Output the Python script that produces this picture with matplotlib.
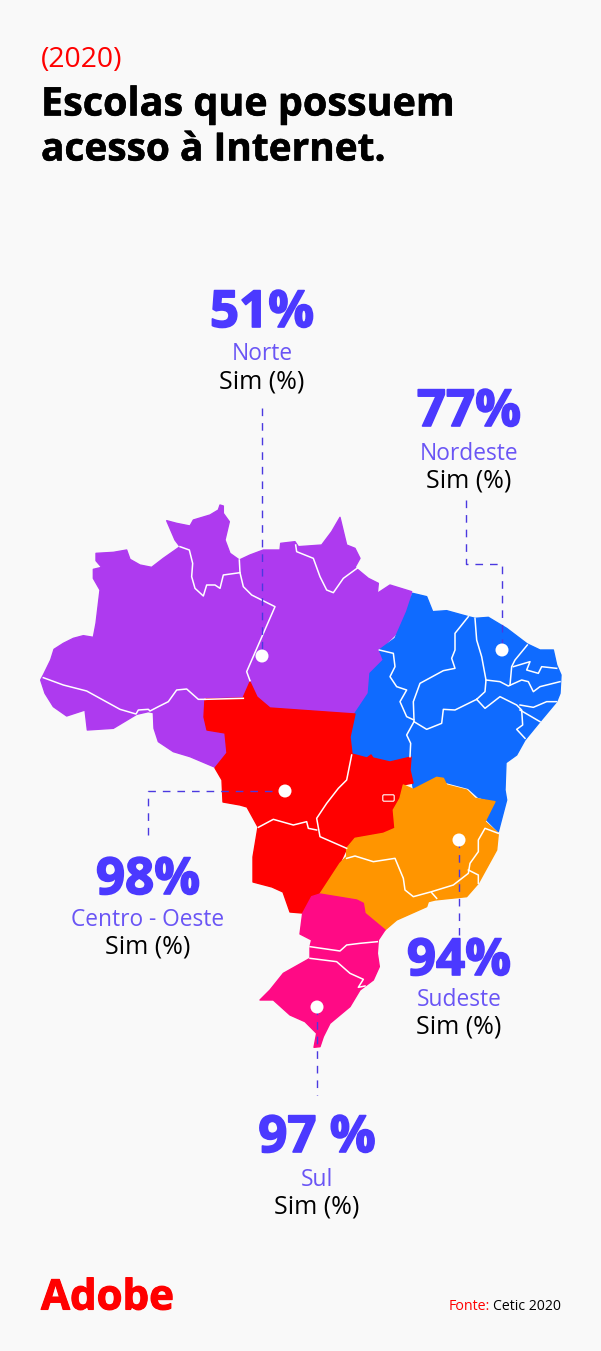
import matplotlib
matplotlib.use("Agg")
import matplotlib.pyplot as plt
import matplotlib.patheffects as pe
from matplotlib.patches import Polygon, Circle, FancyBboxPatch

# ---- data -------------------------------------------------------------
regions = ["Norte", "Nordeste", "Centro - Oeste", "Sudeste", "Sul"]
labels = ["51%", "77%", "98%", "94%", "97 %"]
answer = "Sim (%)"
title_year = "(2020)"
title_lines = ["Escolas que possuem", "acesso à Internet."]

def crop(points, x0, y0):
    return [(x0 + x / 3, y0 + y / 3) for x, y in points]

Z1 = (30, 490)
Z2 = (340, 570)
Z3 = (240, 750)

norte = crop([(40,555),(62,510),(72,478),(100,460),(130,445),(160,437),(190,442),(198,400),(210,300),(190,265),(190,238),(215,232),(198,212),(198,190),(250,187),(290,180),(300,208),(330,225),(365,232),(400,205),(450,170),(435,150),(410,92),(440,100),(480,108),(490,90),(540,75),(565,60),(570,45),(580,48),(580,70),(598,95),(585,150),(600,190),(628,210),(660,195),(700,180),(750,180),(752,160),(795,155),(805,170),(875,165),(905,125),(930,82),(950,165),(975,175),(990,205),(975,232),(1015,265),(1045,280),(1042,310),(1080,285),(1145,305),(1130,375),(1100,430),(1055,475),(1060,510),(1020,555),(1015,610),(975,672),(720,655),(680,620),(660,575),(640,625),(525,628),(522,680),(530,720),(585,730),(590,790),(558,833),(480,800),(430,785),(385,755),(372,715),(370,668),(355,665),(320,673),(250,715),(172,720),(165,660),(110,678),(70,650),(45,610),(32,570)], *Z1)

nordeste = crop([(218,70),(260,80),(278,125),(320,122),(385,140),(405,145),(445,142),(500,175),(562,222),(600,240),(640,240),(650,285),(663,315),(660,370),(650,395),(600,455),(555,510),(530,555),(498,578),(495,660),(500,690),(475,785),(435,745),(462,695),(415,682),(385,655),(310,635),(290,622),(220,655),(210,600),(212,562),(150,575),(100,565),(92,555),(80,565),(35,552),(30,500),(45,430),(85,370),(90,310),(130,270),(118,240),(165,205),(200,125)], *Z2)

centro = [(250,682),(243,698),(205,699),(204,717),(207,730),(225,733),(227,753),(215,768),(222,780),(223,802),(240,805),(247,807),(258,827),(253,857),(253,882),(272,887),(283,892),(290,912),(302,913),(312,897),(320,894),(340,863),(347,848),(355,838),(383,833),(395,828),(393,810),(400,798),(403,785),(413,783),(410,770),(411,757),(390,762),(373,758),(371,755),(367,758),(352,754),(350,737),(355,714),(270,708),(257,697)]

sudeste = crop([(775,250),(770,300),(715,400),(680,440),(585,450),(565,455),(560,470),(470,510),(435,540),(375,490),(370,460),(350,450),(240,432),(300,340),(320,320),(320,295),(345,265),(430,250),(465,235),(460,180),(480,145),(490,105),(520,118),(590,82),(610,85),(620,105),(680,120),(705,145),(765,155),(735,215)], *Z3)

sul = crop([(240,432),(350,450),(370,460),(375,490),(435,540),(415,570),(412,610),(418,650),(400,690),(360,720),(330,770),(270,820),(250,860),(240,890),(222,892),(230,850),(195,815),(150,795),(100,750),(60,750),(90,720),(130,670),(210,625),(210,590),(215,570),(180,552),(188,490),(215,440)], *Z3)

borders = [
    crop(b, *Z1) for b in [
        [(40,563),(100,585),(170,603),(270,658),(318,672),(325,660),(355,658),(360,663),(385,650),(415,635),(440,600),(470,597),(505,628),(525,628)],
        [(450,170),(478,180),(488,220),(485,260),(495,295),(520,318),(530,285),(555,285),(570,295),(580,255),(630,248),(628,210)],
        [(630,248),(640,290),(665,315),(735,350),(650,545),(660,572)],
        [(797,165),(800,185),(850,205),(870,260),(890,300),(910,308),(940,265),(985,232)],
        [(525,628),(640,625)],
    ]
] + [
    crop(b, *Z2) for b in [
        [(385,140),(345,190),(345,240),(335,265),(345,295),(310,302),(240,340),(220,395),(222,450)],
        [(222,455),(260,478),(305,460),(310,418),(345,420),(410,388)],
        [(118,240),(160,250),(165,290),(150,320),(170,350),(200,360),(180,395),(200,440),(222,450)],
        [(222,455),(200,495),(212,520),(210,560)],
        [(405,145),(410,210),(425,260),(438,330),(435,365),(410,388)],
        [(562,225),(525,270),(515,290),(510,345)],
        [(438,330),(480,335),(505,348),(545,330),(565,335),(580,365),(600,350),(660,335)],
        [(520,290),(570,275),(560,300),(595,310),(605,290),(650,295)],
        [(410,388),(435,415),(480,380),(530,405),(545,420),(548,465),(530,478),(555,505)],
        [(540,405),(580,412),(620,395),(650,395)],
        [(540,420),(600,455)],
    ]
] + [
    crop(b, *Z3) for b in [
        [(320,325),(345,318),(400,335),(465,325),(490,385),(495,420),(520,440),(575,425),(640,405),(685,370),(690,340),(715,305),(715,270),(735,235),(775,250)],
        [(685,360),(715,375),(715,400)],
        [(575,428),(590,445)],
        [(335,15),(320,90),(295,115),(260,160),(230,205),(240,260),(320,295)],
        [(55,232),(100,208),(160,225),(200,215),(205,235),(230,240)],
        [(210,590),(300,603),(320,585),(360,580),(412,575)],
        [(210,625),(290,635),(330,670),(370,688),(355,712),(375,708)],
    ]
]

# ---- styles ------------------------------------------------------------
BG = "#F9F9F9"
VIOLET = "#4B39FF"
SUB = "#6A55F5"
RED = "#FF0000"
FILLS = ["#AE3AEF", "#0F6BFF", "#FF0000", "#FF9500", "#FF0A85"]
FONT = "Open Sans"

fig = plt.figure(figsize=(6.01, 13.51), dpi=100, facecolor=BG)
ax = fig.add_axes([0, 0, 1, 1])
ax.set_xlim(0, 601)
ax.set_ylim(1351, 0)
ax.axis("off")

for shape, col in zip([norte, nordeste, centro, sudeste, sul], FILLS):
    ax.add_patch(Polygon(shape, closed=True, facecolor=col, edgecolor=col, lw=1.0, joinstyle="round", zorder=2))

for b in borders:
    xs, ys = zip(*b)
    ax.plot(xs, ys, color="white", lw=1.1, solid_joinstyle="round", zorder=3)

ax.add_patch(FancyBboxPatch((384, 796), 9, 4, boxstyle="round,pad=1.2", facecolor=RED, edgecolor="white", lw=0.8, zorder=3))

# leader lines and dots
leaders = [
    ([262, 262], [408, 656], (262, 656)),
    ([466, 466, 502, 502], [500, 564, 564, 650], (502, 650)),
    ([148, 148, 285], [835, 791, 791], (285, 791)),
    ([459, 459], [840, 935], (459, 840)),
    ([317, 317], [1007, 1095], (317, 1007)),
]
for xs, ys, dot in leaders:
    ax.plot(xs, ys, color="#4B39E0", lw=1.0, dashes=(5.5, 5), zorder=4)
    ax.add_patch(Circle(dot, 6.5, facecolor="white", edgecolor="none", zorder=5))

def T(x, y, s, px, color="black", weight="normal", ha="center", stroke=0):
    t = ax.text(x, y, s, fontsize=px * 0.72, color=color, fontweight=weight, ha=ha, va="center",
                family=FONT, zorder=6)
    if stroke:
        t.set_path_effects([pe.withStroke(linewidth=stroke, foreground=color)])
    return t

T(41, 60, title_year, 28.4, RED, ha="left")
T(41, 105, title_lines[0], 39.5, "black", "bold", "left", stroke=0.4)
T(41, 150, title_lines[1], 38.8, "black", "bold", "left", stroke=0.4)

blocks = [(262, 314, 354.5, 382), (469, 413, 453.5, 481), (148, 881, 919.5, 947), (459, 962, 999.5, 1027), (317, 1139, 1179.5, 1207)]
for (x, y1, y2, y3), r, v in zip(blocks, regions, labels):
    T(x, y1, v, 51, VIOLET, "bold", stroke=1.2)
    T(x, y2, r, 22.7, SUB)
    T(x, y3, answer, 25, "black")

T(41, 1299, "Adobe", 42, RED, "bold", "left", stroke=0.8)
T(449, 1306, "Fonte:", 14.3, RED, ha="left")
T(493, 1306, "Cetic 2020", 14, "black", ha="left")

fig.savefig("out.png", dpi=100, facecolor=BG)
